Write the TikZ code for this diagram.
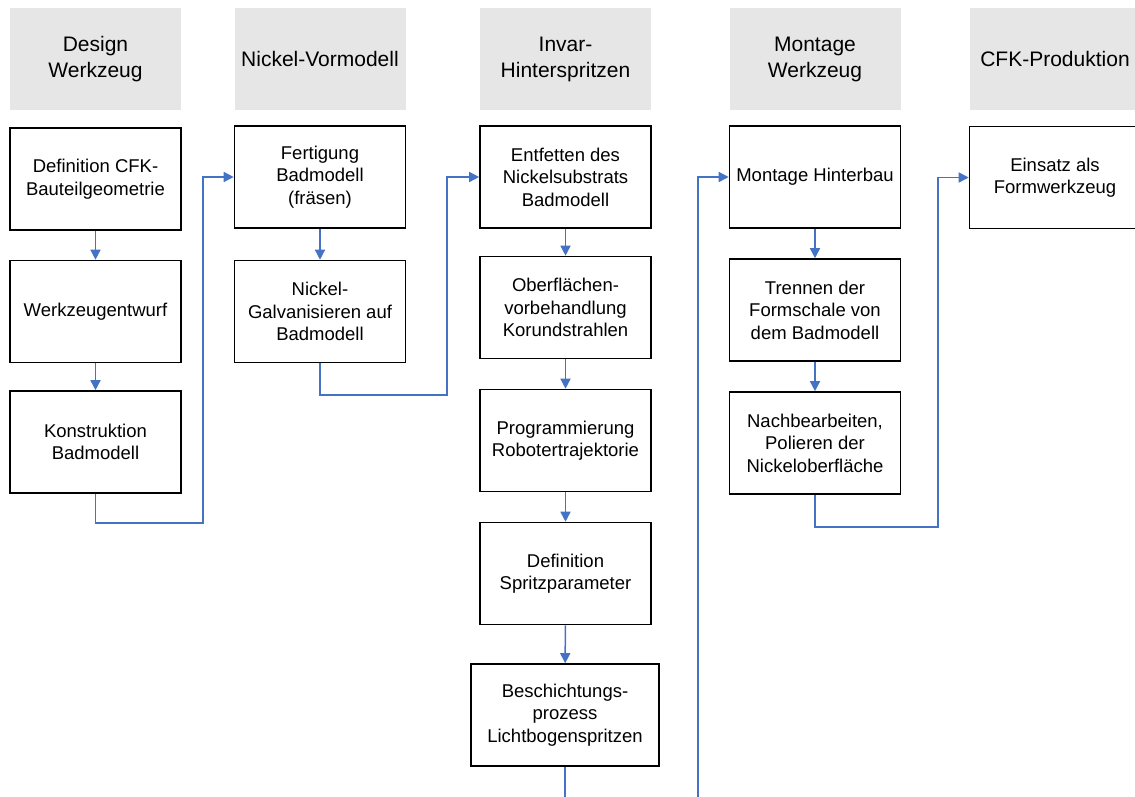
\documentclass[tikz,border=0pt]{standalone}
\usepackage{fontspec}
\setmainfont{Liberation Sans}
\usepackage{tikz}
\usetikzlibrary{arrows.meta}

\definecolor{headgray}{HTML}{E6E6E6}
\definecolor{flowblue}{HTML}{4472C4}

\tikzset{
  head/.style={fill=headgray, minimum width=171pt, minimum height=102pt,
    align=center, font=\fontsize{21}{26}\selectfont},
  stepbox/.style={draw=black, line width=1.6pt, fill=white, minimum width=171pt,
    minimum height=102pt, align=center, font=\fontsize{18.5}{22.5}\selectfont},
  flow/.style={draw=flowblue, line width=1.5pt, -{Triangle[length=10pt,width=10pt]}},
  flowline/.style={draw=flowblue, line width=1.5pt}
}

\begin{document}
\begin{tikzpicture}[x=1pt, y=-1pt]
\useasboundingbox (0,0) rectangle (1135,796);
\clip (0,0) rectangle (1135,796);

% Kopfzeile
\node[head] (hDesign) at (95.5,59) {Design\\Werkzeug};
\node[head] (hNickel) at (320,59) {Nickel-Vormodell};
\node[head] (hInvar) at (565.5,59) {Invar-\\Hinterspritzen};
\node[head] (hMontage) at (815,59) {Montage\\Werkzeug};
\node[head] (hCFK) at (1055,59) {CFK-Produktion};

% Design Werkzeug
\node[stepbox] (defCFK) at (95.5,179) {Definition CFK-\\Bauteilgeometrie};
\node[stepbox] (entwurf) at (95.5,311.5) {Werkzeugentwurf};
\node[stepbox] (konstr) at (95.5,442) {Konstruktion\\Badmodell};

% Nickel-Vormodell
\node[stepbox] (fertig) at (320,177) {Fertigung\\Badmodell\\(fräsen)};
\node[stepbox] (galvan) at (320,311.5) {Nickel-\\Galvanisieren auf\\Badmodell};

% Invar-Hinterspritzen
\node[stepbox] (entfett) at (565.5,177) {Entfetten des\\Nickelsubstrats\\Badmodell};
\node[stepbox] (vorbeh) at (565.5,307.5) {Oberflächen-\\vorbehandlung\\Korundstrahlen};
\node[stepbox] (progr) at (565.5,440.5) {Programmierung\\Robotertrajektorie};
\node[stepbox] (spritz) at (565.5,573.5) {Definition\\Spritzparameter};
\node[stepbox, minimum width=188pt] (beschicht) at (565,715) {Beschichtungs-\\prozess\\Lichtbogenspritzen};

% Montage Werkzeug
\node[stepbox] (hinterbau) at (815,177) {Montage Hinterbau};
\node[stepbox] (trennen) at (815,310) {Trennen der\\Formschale von\\dem Badmodell};
\node[stepbox] (nacharb) at (815,443) {Nachbearbeiten,\\Polieren der\\Nickeloberfläche};

% CFK-Produktion
\node[stepbox] (einsatz) at (1055,177.5) {Einsatz als\\Formwerkzeug};

% Hilfspunkte
\coordinate (k1) at (203,523);
\coordinate (g1) at (447,395);
\coordinate (b1) at (565,800);
\coordinate (m0) at (698,800);
\coordinate (n1) at (938,527);

% Verbindungen
\draw[flow] (defCFK) -- (entwurf);
\draw[flow] (entwurf) -- (konstr);
\draw[flow] (konstr.south) |- (k1) |- (fertig.west);
\draw[flow] (fertig) -- (galvan);
\draw[flow] (galvan.south) |- (g1) |- (entfett.west);
\draw[flow] (entfett) -- (vorbeh);
\draw[flow] (vorbeh) -- (progr);
\draw[flow] (progr) -- (spritz);
\draw[flow] (spritz) -- (beschicht);
\draw[flowline] (beschicht.south) -- (b1);
\draw[flow] (m0) |- (hinterbau.west);
\draw[flow] (hinterbau) -- (trennen);
\draw[flow] (trennen) -- (nacharb);
\draw[flow] (nacharb.south) |- (n1) |- (einsatz.west);
\end{tikzpicture}
\end{document}
